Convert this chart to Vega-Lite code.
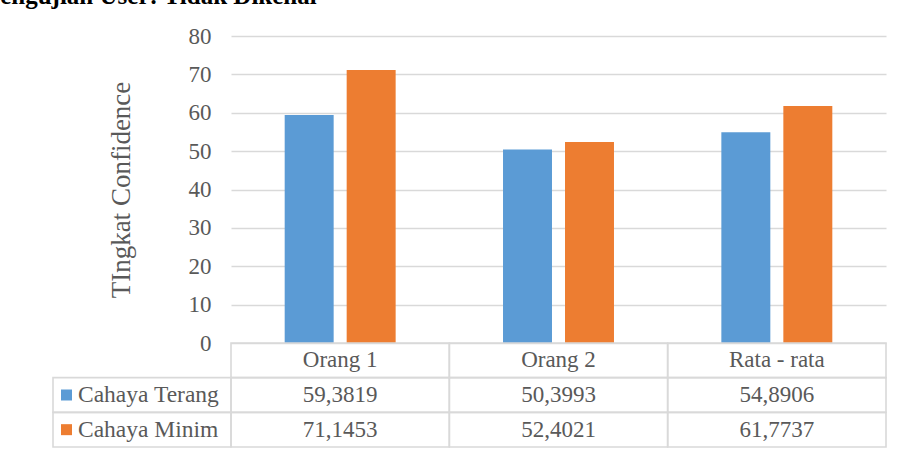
{
  "$schema": "https://vega.github.io/schema/vega-lite/v6.json",
  "padding": {"left": 0, "top": -16, "right": 0, "bottom": 0},
  "background": "white",
  "title": {"text": "engujian User: Tidak Dikenal", "anchor": "start", "font": "Liberation Serif", "fontSize": 25, "fontWeight": "bold", "color": "black", "offset": 16, "dx": -52},
  "datasets": {
    "vals": [
      {"cat": "Orang 1", "series": "Cahaya Terang", "value": 59.3819, "label": "59,3819"},
      {"cat": "Orang 2", "series": "Cahaya Terang", "value": 50.3993, "label": "50,3993"},
      {"cat": "Rata - rata", "series": "Cahaya Terang", "value": 54.8906, "label": "54,8906"},
      {"cat": "Orang 1", "series": "Cahaya Minim", "value": 71.1453, "label": "71,1453"},
      {"cat": "Orang 2", "series": "Cahaya Minim", "value": 52.4021, "label": "52,4021"},
      {"cat": "Rata - rata", "series": "Cahaya Minim", "value": 61.7737, "label": "61,7737"}
    ],
    "header": [
      {"cat": "Orang 1"}, {"cat": "Orang 2"}, {"cat": "Rata - rata"}
    ],
    "series": [
      {"series": "Cahaya Terang"}, {"series": "Cahaya Minim"}
    ]
  },
  "columns": 2,
  "spacing": 0,
  "align": "each",
  "bounds": "flush",
  "concat": [
    {
      "width": 178, "height": 307,
      "data": {"values": [{"a": 1}]},
      "mark": {"type": "text", "text": " "},
      "encoding": {}
    },
    {
      "width": 655, "height": 307,
      "data": {"name": "vals"},
      "mark": {"type": "bar"},
      "encoding": {
        "x": {"field": "cat", "type": "nominal", "sort": ["Orang 1", "Orang 2", "Rata - rata"], "scale": {"paddingInner": 0, "paddingOuter": 0}, "axis": null},
        "xOffset": {"field": "series", "type": "nominal", "sort": ["Cahaya Terang", "Cahaya Minim"], "scale": {"paddingInner": 0.21, "paddingOuter": 0.866}},
        "y": {"field": "value", "type": "quantitative", "scale": {"domain": [0, 80], "nice": false},
          "axis": {"values": [0, 10, 20, 30, 40, 50, 60, 70, 80], "domain": false, "ticks": false, "grid": true, "gridColor": "#d9d9d9", "gridWidth": 1.3,
            "labelFont": "Liberation Serif", "labelFontSize": 23, "labelColor": "#595959", "labelPadding": 20,
            "title": "TIngkat Confidence", "titleFont": "Liberation Serif", "titleFontSize": 27, "titleFontWeight": "normal", "titleColor": "#595959", "titlePadding": 53}},
        "color": {"field": "series", "type": "nominal", "scale": {"domain": ["Cahaya Terang", "Cahaya Minim"], "range": ["#5B9BD5", "#ED7D31"]}, "legend": null}
      }
    },
    {
      "width": 178, "height": 104,
      "data": {"name": "series"},
      "encoding": {
        "y": {"field": "series", "type": "nominal", "scale": {"domain": ["header", "Cahaya Terang", "Cahaya Minim"], "paddingInner": 0, "paddingOuter": 0}, "axis": null}
      },
      "layer": [
        {
          "mark": {"type": "rect", "fill": "transparent", "stroke": "#d9d9d9", "strokeWidth": 1.6},
          "encoding": {"x": {"datum": "legend", "type": "nominal", "scale": {"paddingInner": 0, "paddingOuter": 0}, "axis": null}}
        },
        {
          "mark": {"type": "point", "shape": "square", "filled": true, "opacity": 1, "size": 121, "xOffset": 13.5},
          "encoding": {
            "x": {"datum": "legend", "type": "nominal", "bandPosition": 0, "axis": null},
            "color": {"field": "series", "type": "nominal", "scale": {"domain": ["Cahaya Terang", "Cahaya Minim"], "range": ["#5B9BD5", "#ED7D31"]}, "legend": null}
          }
        },
        {
          "mark": {"type": "text", "align": "left", "dx": 25, "font": "Liberation Serif", "fontSize": 23.5, "color": "#595959"},
          "encoding": {
            "x": {"datum": "legend", "type": "nominal", "bandPosition": 0, "axis": null},
            "text": {"field": "series"}
          }
        }
      ],
      "resolve": {"scale": {"color": "independent"}}
    },
    {
      "width": 655, "height": 104,
      "layer": [
        {
          "data": {"name": "header"},
          "encoding": {
            "x": {"field": "cat", "type": "nominal", "sort": ["Orang 1", "Orang 2", "Rata - rata"], "scale": {"paddingInner": 0, "paddingOuter": 0}, "axis": null},
            "y": {"datum": "header", "type": "nominal", "scale": {"domain": ["header", "Cahaya Terang", "Cahaya Minim"], "paddingInner": 0, "paddingOuter": 0}, "axis": null}
          },
          "layer": [
            {"mark": {"type": "rect", "fill": "transparent", "stroke": "#d9d9d9", "strokeWidth": 1.6}},
            {"mark": {"type": "text", "font": "Liberation Serif", "fontSize": 23, "color": "#595959"}, "encoding": {"text": {"field": "cat"}}}
          ]
        },
        {
          "data": {"name": "vals"},
          "encoding": {
            "x": {"field": "cat", "type": "nominal", "sort": ["Orang 1", "Orang 2", "Rata - rata"], "axis": null},
            "y": {"field": "series", "type": "nominal", "axis": null}
          },
          "layer": [
            {"mark": {"type": "rect", "fill": "transparent", "stroke": "#d9d9d9", "strokeWidth": 1.6}},
            {"mark": {"type": "text", "font": "Liberation Serif", "fontSize": 23, "color": "#595959"}, "encoding": {"text": {"field": "label"}}}
          ]
        }
      ]
    }
  ],
  "config": {"view": {"stroke": null}, "font": "Liberation Serif", "text": {"font": "Liberation Serif"}}
}
